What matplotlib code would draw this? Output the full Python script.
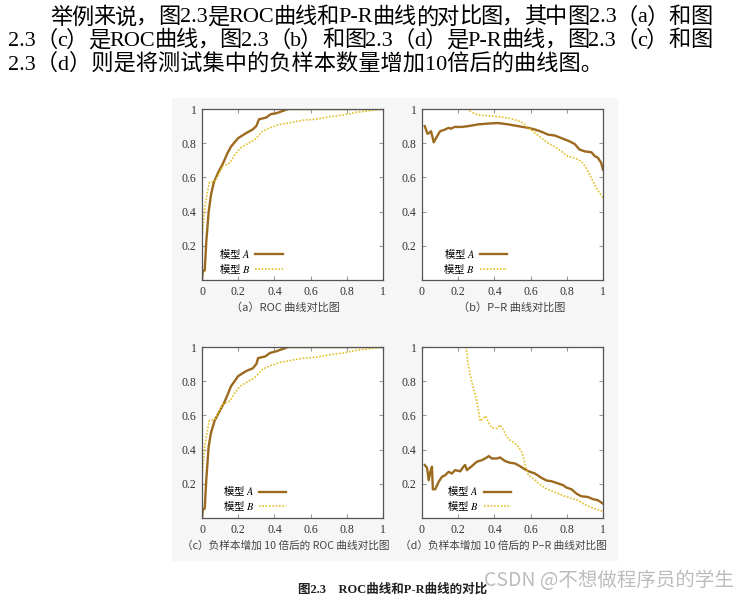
import re
import matplotlib
matplotlib.use("Agg")
import matplotlib.pyplot as plt
from matplotlib.patches import Rectangle
from matplotlib.lines import Line2D

plt.rcParams['mathtext.fontset'] = 'stix'

# ---- data ----
roc_a_fpr = [0, 0.005, 0.015, 0.024, 0.037, 0.05, 0.065, 0.09, 0.115, 0.14, 0.16, 0.2, 0.245, 0.28, 0.3, 0.315, 0.355, 0.38, 0.41, 0.45, 0.475, 1.0]
roc_a_tpr = [0, 0.055, 0.055, 0.23, 0.40, 0.5, 0.57, 0.63, 0.68, 0.74, 0.78, 0.83, 0.86, 0.88, 0.90, 0.94, 0.95, 0.97, 0.975, 0.99, 1.0, 1.0]
roc_b_fpr = [0, 0.005, 0.015, 0.028, 0.04, 0.07, 0.09, 0.115, 0.155, 0.18, 0.21, 0.255, 0.29, 0.335, 0.375, 0.43, 0.485, 0.56, 0.63, 0.705, 0.78, 0.85, 0.925, 1.0]
roc_b_tpr = [0.255, 0.30, 0.42, 0.5, 0.57, 0.575, 0.615, 0.665, 0.685, 0.73, 0.77, 0.80, 0.82, 0.87, 0.89, 0.91, 0.92, 0.935, 0.94, 0.955, 0.965, 0.98, 0.99, 1.0]

roc10_a_fpr = [0, 0.005, 0.015, 0.024, 0.037, 0.05, 0.07, 0.1, 0.125, 0.145, 0.16, 0.2, 0.245, 0.28, 0.3, 0.31, 0.35, 0.375, 0.41, 0.45, 0.475, 1.0]
roc10_a_tpr = [0, 0.05, 0.055, 0.23, 0.42, 0.5, 0.57, 0.63, 0.68, 0.73, 0.77, 0.83, 0.86, 0.875, 0.9, 0.935, 0.945, 0.965, 0.975, 0.99, 1.0, 1.0]
roc10_b_fpr = roc_b_fpr
roc10_b_tpr = roc_b_tpr

pr_a_rec = [0.015, 0.03, 0.04, 0.05, 0.065, 0.083, 0.1, 0.128, 0.147, 0.16, 0.18, 0.22, 0.257, 0.31, 0.367, 0.42, 0.477, 0.53, 0.587, 0.624, 0.66, 0.697, 0.734, 0.77, 0.817, 0.844, 0.87, 0.9, 0.936, 0.954, 0.972, 0.99, 1.0]
pr_a_pre = [0.90, 0.855, 0.86, 0.87, 0.805, 0.84, 0.87, 0.88, 0.89, 0.885, 0.895, 0.895, 0.90, 0.91, 0.915, 0.918, 0.91, 0.90, 0.89, 0.88, 0.867, 0.85, 0.845, 0.83, 0.81, 0.795, 0.763, 0.752, 0.747, 0.725, 0.715, 0.685, 0.645]
pr_b_rec = [0.248, 0.275, 0.31, 0.35, 0.403, 0.459, 0.495, 0.532, 0.56, 0.587, 0.624, 0.66, 0.697, 0.734, 0.77, 0.807, 0.844, 0.88, 0.908, 0.936, 0.963, 0.982, 1.0]
pr_b_pre = [1.0, 0.98, 0.965, 0.962, 0.957, 0.95, 0.943, 0.93, 0.918, 0.89, 0.86, 0.83, 0.80, 0.78, 0.752, 0.723, 0.713, 0.694, 0.655, 0.596, 0.538, 0.509, 0.48]

pr10_a_rec = [0.015, 0.028, 0.037, 0.046, 0.055, 0.06, 0.073, 0.092, 0.11, 0.128, 0.147, 0.165, 0.183, 0.211, 0.229, 0.238, 0.248, 0.275, 0.303, 0.33, 0.349, 0.37, 0.385, 0.413, 0.431, 0.459, 0.486, 0.514, 0.541, 0.56, 0.587, 0.624, 0.66, 0.688, 0.716, 0.752, 0.78, 0.798, 0.826, 0.853, 0.88, 0.917, 0.945, 0.972, 1.0]
pr10_a_pre = [0.31, 0.293, 0.221, 0.27, 0.30, 0.168, 0.168, 0.211, 0.241, 0.25, 0.27, 0.26, 0.28, 0.273, 0.30, 0.31, 0.28, 0.303, 0.329, 0.338, 0.348, 0.362, 0.348, 0.348, 0.354, 0.333, 0.323, 0.319, 0.303, 0.29, 0.274, 0.26, 0.235, 0.219, 0.215, 0.202, 0.192, 0.178, 0.168, 0.143, 0.127, 0.123, 0.11, 0.104, 0.084]
pr10_b_rec = [0.244, 0.253, 0.266, 0.279, 0.294, 0.303, 0.316, 0.321, 0.34, 0.352, 0.367, 0.385, 0.413, 0.431, 0.45, 0.468, 0.486, 0.514, 0.532, 0.55, 0.563, 0.572, 0.587, 0.615, 0.642, 0.679, 0.716, 0.752, 0.789, 0.826, 0.862, 0.89, 0.927, 0.963, 1.0]
pr10_b_pre = [1.0, 0.916, 0.838, 0.779, 0.72, 0.681, 0.603, 0.568, 0.583, 0.597, 0.56, 0.528, 0.524, 0.544, 0.514, 0.475, 0.456, 0.436, 0.417, 0.387, 0.344, 0.30, 0.25, 0.231, 0.205, 0.176, 0.159, 0.143, 0.127, 0.114, 0.104, 0.084, 0.065, 0.051, 0.039]

x_ticks = [0, 0.2, 0.4, 0.6, 0.8, 1]
x_labels = ['0', '0.2', '0.4', '0.6', '0.8', '1']
y_ticks = [0.2, 0.4, 0.6, 0.8, 1]
y_labels = ['0.2', '0.4', '0.6', '0.8', '1']

para = ['举例来说，图2.3是ROC曲线和P-R曲线的对比图，其中图2.3（a）和图',
        '2.3（c）是ROC曲线，图2.3（b）和图2.3（d）是P-R曲线，图2.3（c）和图',
        '2.3（d）则是将测试集中的负样本数量增加10倍后的曲线图。']
captions = ['（a）ROC 曲线对比图', '（b）P–R 曲线对比图',
            '（c）负样本增加 10 倍后的 ROC 曲线对比图', '（d）负样本增加 10 倍后的 P–R 曲线对比图']

W, H = 751, 600
col_a = '#9b6a1f'
col_b = '#e0c02a'
mixed = ['Liberation Serif', 'Noto Sans CJK SC']

fig = plt.figure(figsize=(W / 100, H / 100), dpi=100)
fig.patches.append(Rectangle((172 / W, 1 - 560 / H), (617 - 172) / W, (560 - 98) / H,
                             transform=fig.transFigure, color='#f6f6f6', zorder=-5))


def px(x, y):
    return x / W, 1 - y / H


def make_ax(left, top, xa, ya, xb, yb, leg_x, leg_y, cap, cap_x, cap_y, cap_size):
    ax = fig.add_axes([left / W, 1 - (top + 171) / H, 181 / W, 171 / H])
    ax.set_facecolor('white')
    ax.plot(xa, ya, color=col_a, lw=1.7, solid_joinstyle='round')
    ax.plot(xb, yb, color=col_b, lw=1.2, linestyle=(0, (1, 1)))
    ax.set_xlim(0, 1)
    ax.set_ylim(0, 1)
    ax.set_xticks(x_ticks)
    ax.set_xticklabels(x_labels, family='Liberation Serif', fontsize=8.5, color='#333333')
    ax.set_yticks(y_ticks)
    ax.set_yticklabels(y_labels, family='Liberation Serif', fontsize=8.5, color='#333333')
    ax.tick_params(direction='in', length=3, width=0.8, color='#999999', top=True, right=True, pad=4)
    for s in ax.spines.values():
        s.set_color('#555555')
        s.set_linewidth(0.9)
    handles = [Line2D([], [], color=col_a, lw=1.7), Line2D([], [], color=col_b, lw=1.2, linestyle=(0, (1, 1)))]
    ax.legend(handles, ['模型 $A$', '模型 $B$'], loc='lower left', bbox_to_anchor=(leg_x, leg_y),
              frameon=False, markerfirst=False, handlelength=2.6, handletextpad=0.5,
              labelspacing=0.05, borderpad=0, prop={'family': 'Noto Sans CJK SC', 'size': 7.5})
    fig.text(*px(cap_x, cap_y), cap, ha='center', va='center', fontsize=cap_size,
             family='Noto Sans CJK SC', color='#444444')
    return ax


make_ax(202, 109, roc_a_fpr, roc_a_tpr, roc_b_fpr, roc_b_tpr, 0.065, -0.005, captions[0], 285, 307, 8)
make_ax(422, 109, pr_a_rec, pr_a_pre, pr_b_rec, pr_b_pre, 0.09, -0.005, captions[1], 512, 307, 8)
make_ax(202, 347, roc10_a_fpr, roc10_a_tpr, roc10_b_fpr, roc10_b_tpr, 0.085, 0.0, captions[2], 286, 546, 7.7)
make_ax(422, 347, pr10_a_rec, pr10_a_pre, pr10_b_rec, pr10_b_pre, 0.11, 0.0, captions[3], 503, 546, 7.7)

# paragraph, lines 1 and 2 are justified to the right edge
renderer = fig.canvas.get_renderer()


def put_line(s, x0, y, x1=None, size=16):
    if x1 is None:
        fig.text(*px(x0, y), s, ha='left', va='center', fontsize=size, family=mixed)
        return
    toks = re.findall(r'[A-Za-z0-9.\-]+|.', s)
    ts = [fig.text(*px(0, y), t, ha='left', va='center', fontsize=size, family=mixed) for t in toks]
    ws = [t.get_window_extent(renderer).width for t in ts]
    gap = (x1 - x0 - sum(ws)) / (len(toks) - 1)
    x = x0
    for t, w in zip(ts, ws):
        t.set_x(x / W)
        x += w + gap


put_line(para[0], 50, 18, 712)
put_line(para[1], 8, 41, 712)
put_line(para[2], 8, 64)

fig.text(*px(298, 590), '图2.3　ROC曲线和P-R曲线的对比', ha='left', va='center', fontsize=9,
         family=mixed, weight='bold', color='#222222')
fig.text(*px(484, 580), 'CSDN @不想做程序员的学生', ha='left', va='center', fontsize=14,
         family=['Noto Sans CJK SC'], color='#b5b5b5', alpha=0.9)

fig.savefig('out.png', dpi=100)
